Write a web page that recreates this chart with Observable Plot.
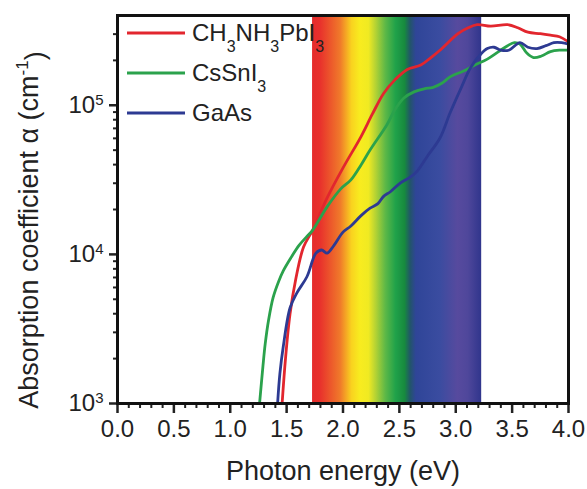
<!DOCTYPE html>
<html><head><meta charset="utf-8">
<script src="https://cdn.jsdelivr.net/npm/d3@7"></script>
<script src="https://cdn.jsdelivr.net/npm/@observablehq/plot@0.6"></script>
<style>
body{margin:0;background:#fff}
#chart svg{font-family:"Liberation Sans",Arial,Helvetica,sans-serif;overflow:visible}
</style>
</head><body><div id="chart"></div>
<script>
// ---- data ----
const seriesNames = ["CH3NH3PbI3", "CsSnI3", "GaAs"];
const seriesLabels = ["CH{3}NH{3}PbI{3}", "CsSnI{3}", "GaAs"];
const seriesColors = ["#e2262e", "#2ba24c", "#2d3a92"];

const mapiEnergy = [1.46,1.49,1.53,1.58,1.65,1.73,1.86,2.00,2.16,2.26,2.36,2.46,2.57,2.69,2.78,2.86,3.02,3.11,3.19,3.31,3.46,3.55,3.64,3.75,3.84,3.92,3.99];
const mapiAlpha  = [1000,2000,3980,6760,11200,14500,24000,38000,61700,87100,120000,148000,174000,186000,209000,234000,302000,331000,347000,339000,347000,331000,309000,302000,295000,288000,269000];

const csEnergy = [1.26,1.29,1.31,1.34,1.38,1.43,1.47,1.54,1.61,1.68,1.73,1.86,1.98,2.07,2.16,2.24,2.39,2.46,2.54,2.63,2.72,2.80,2.88,2.95,3.07,3.17,3.28,3.38,3.46,3.52,3.57,3.63,3.69,3.76,3.84,3.92,4.00];
const csAlpha  = [1000,1780,2510,3630,5130,6610,7760,9550,11500,13200,14500,20900,27500,31600,39800,50100,74100,93300,112000,123000,129000,132000,141000,155000,170000,186000,204000,229000,251000,263000,257000,224000,209000,214000,229000,234000,234000];

const gaasEnergy = [1.42,1.44,1.47,1.53,1.59,1.68,1.76,1.81,1.86,1.92,2.00,2.07,2.16,2.24,2.31,2.36,2.42,2.51,2.60,2.66,2.75,2.86,2.95,3.05,3.13,3.22,3.28,3.34,3.40,3.47,3.57,3.64,3.72,3.80,3.87,3.94,4.00];
const gaasAlpha  = [1000,1580,2400,4370,5500,7080,10200,10700,10200,11500,14100,15500,18200,20400,21900,24500,26300,30200,33100,36300,45700,60300,89100,132000,178000,219000,240000,245000,234000,234000,263000,245000,240000,251000,263000,263000,257000];

const xTicks = [0, 0.5, 1.0, 1.5, 2.0, 2.5, 3.0, 3.5, 4.0];
const xTickLabels = ["0.0","0.5","1.0","1.5","2.0","2.5","3.0","3.5","4.0"];
const xMinorTicks = [0.1,0.2,0.3,0.4,0.6,0.7,0.8,0.9,1.1,1.2,1.3,1.4,1.6,1.7,1.8,1.9,2.1,2.2,2.3,2.4,2.6,2.7,2.8,2.9,3.1,3.2,3.3,3.4,3.6,3.7,3.8,3.9];
const yTicks = [1e3, 1e4, 1e5];
const yTickExponents = ["3", "4", "5"];
const yMinorTicks = [2000,3000,4000,5000,6000,7000,8000,9000,20000,30000,40000,50000,60000,70000,80000,90000,200000,300000];

const xLabel = "Photon energy (eV)";
const yLabel = "Absorption coefficient α (cm";
const yLabelSup = "-1";

// visible spectrum band
const bandRange = [1.73, 3.23];
const bandStopEnergy = [1.73,1.80,1.98,2.08,2.155,2.23,2.29,2.38,2.47,2.55,2.60,2.65,2.86,3.02,3.11,3.23];
const bandStopColor  = ["#e52b2b","#e8312c","#f07a2a","#f9d21f","#f8ec1f","#f0ea22","#b8d433","#5db847","#20a24a","#178a3e","#22556a","#2f4598","#3a4ca0","#574a9e","#4f479b","#30358c"];

// ---- build table ----
const lineData = [];
[[mapiEnergy, mapiAlpha], [csEnergy, csAlpha], [gaasEnergy, gaasAlpha]].forEach(([e, a], i) => {
  e.forEach((v, j) => lineData.push({series: seriesNames[i], energy: v, alpha: a[j]}));
});

const fontFam = '"Liberation Sans",Arial,Helvetica,sans-serif';

const chart = Plot.plot({
  width: 587, height: 489,
  marginLeft: 117, marginRight: 19, marginTop: 15, marginBottom: 86,
  style: {fontFamily: fontFam, fontSize: "24px", color: "#222", background: "#fff"},
  x: {domain: [0, 4]},
  y: {type: "log", domain: [1e3, 4e5]},
  color: {domain: seriesNames, range: seriesColors},
  marks: [
    Plot.rect([{x1: bandRange[0], x2: bandRange[1]}], {x1: "x1", x2: "x2", fill: "url(#spectrum)"}),
    Plot.line(lineData, {x: "energy", y: "alpha", z: "series", stroke: "series", strokeWidth: 2.8, curve: "catmull-rom", clip: true}),
    Plot.axisX(xMinorTicks, {tickSize: 5, strokeWidth: 2, tickFormat: () => "", label: null}),
    Plot.axisX(xTicks, {tickSize: 10, tickPadding: 6, strokeWidth: 2.5, tickFormat: (d) => xTickLabels[xTicks.indexOf(d)], fontSize: 24, label: null}),
    Plot.axisY(yMinorTicks, {tickSize: 4, strokeWidth: 2, tickFormat: () => "", label: null}),
    Plot.axisY(yTicks, {tickSize: 8, tickPadding: 6, strokeWidth: 2.5, tickFormat: d => "10^" + yTickExponents[yTicks.indexOf(d)], fontSize: 24, label: null}),
    Plot.frame({stroke: "#111", strokeWidth: 3})
  ]
});

const svg = d3.select(chart);

// gradient
const grad = svg.insert("defs", ":first-child").append("linearGradient")
  .attr("id", "spectrum").attr("x1", 0).attr("x2", 1).attr("y1", 0).attr("y2", 0);
bandStopEnergy.forEach((e, i) => {
  grad.append("stop")
    .attr("offset", (e - bandRange[0]) / (bandRange[1] - bandRange[0]))
    .attr("stop-color", bandStopColor[i]);
});

// superscript y tick labels
svg.selectAll("text").each(function() {
  const t = this.textContent;
  if (t.indexOf("^") >= 0) {
    const [base, exp] = t.split("^");
    const sel = d3.select(this);
    sel.text(null);
    sel.append("tspan").text(base);
    sel.append("tspan").attr("dy", "-0.55em").attr("font-size", "15px").text(exp);
  }
});

// legend
const leg = svg.append("g").attr("font-family", fontFam).attr("font-size", 24)
  .attr("fill", "#222").attr("text-anchor", "start");
const legRowY = [33, 73, 113];
seriesNames.forEach((n, i) => {
  const y = legRowY[i];
  leg.append("line").attr("x1", 127).attr("x2", 185).attr("y1", y).attr("y2", y)
    .attr("stroke", seriesColors[i]).attr("stroke-width", 3);
  const t = leg.append("text").attr("x", 192).attr("y", y + 8).attr("text-anchor", "start");
  const parts = seriesLabels[i].split(/(\{\d+\})/).filter(s => s.length);
  let shift = 0;
  parts.forEach(p => {
    if (p[0] === "{") {
      t.append("tspan").attr("dy", 11 - shift).attr("font-size", 16).text(p.slice(1, -1));
      shift = 11;
    } else {
      t.append("tspan").attr("dy", -shift).text(p);
      shift = 0;
    }
  });
});

// axis titles
svg.append("text").attr("x", 343).attr("y", 480).attr("text-anchor", "middle")
  .attr("font-family", fontFam).attr("font-size", 27).attr("fill", "#222").text(xLabel);
const yt = svg.append("text").attr("transform", "translate(38,230) rotate(-90)")
  .attr("text-anchor", "middle").attr("font-family", fontFam).attr("font-size", 27).attr("fill", "#222");
yt.append("tspan").text(yLabel);
yt.append("tspan").attr("dy", "-0.6em").attr("font-size", 17).text(yLabelSup);
yt.append("tspan").attr("dy", "0.6em").text(")");

document.getElementById("chart").appendChild(chart);
</script>
</body></html>
